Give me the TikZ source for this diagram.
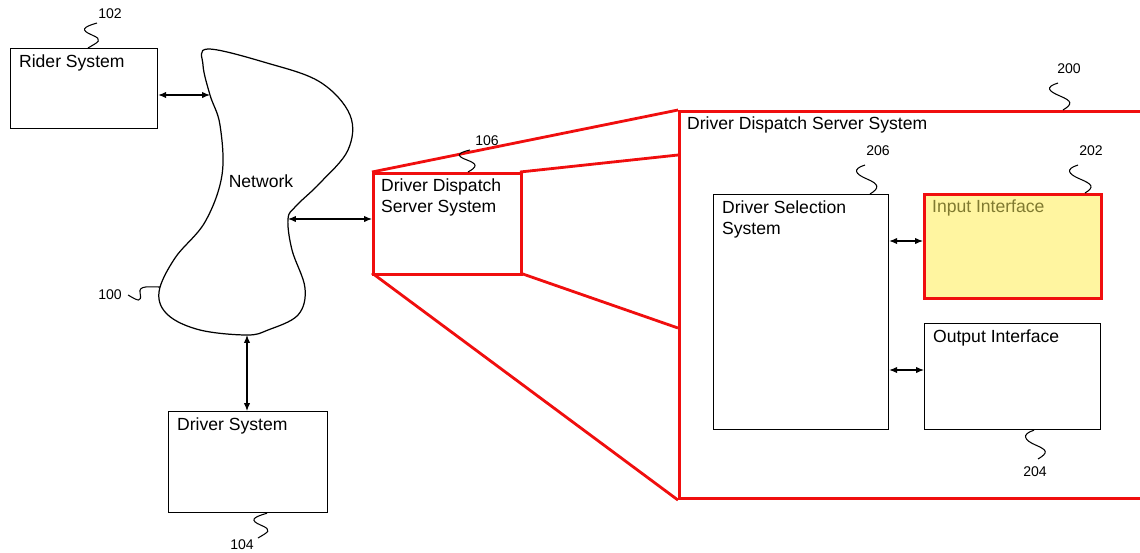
\documentclass[tikz,border=0pt]{standalone}
\usepackage{fontspec}
\setmainfont{Liberation Sans}
\usetikzlibrary{arrows.meta, positioning}

\definecolor{zoomred}{RGB}{240,14,14}
\definecolor{inputfill}{RGB}{255,245,160}
\definecolor{inputtext}{RGB}{128,122,48}

\tikzset{
  sysbox/.style={draw, line width=0.7pt, fill=white, inner sep=0pt, anchor=north west},
  redbox/.style={sysbox, draw=zoomred, line width=1.8pt},
  boxtext/.style={anchor=north west, inner sep=0pt, xshift=5pt, yshift=-3.5pt,
                  align=left, font=\fontsize{10}{12}\selectfont},
  refnum/.style={inner sep=0pt, font=\fontsize{8}{9.6}\selectfont},
  lead/.style={line width=0.6pt},
  zoomline/.style={zoomred, line width=1.6pt},
  link/.style={<->, line width=0.6pt}
}

\begin{document}
\begin{tikzpicture}[x=0.02cm, y=-0.02cm, >={Latex[length=4.5pt,width=3.6pt]}]
  % page frame, in pixels of the original sheet
  \clip (0,0) rectangle (1140,552);
  \useasboundingbox (0,0) rectangle (1140,552);

  % --- network cloud ---
  \draw[line width=0.7pt] plot[smooth cycle, tension=0.6] coordinates {
    (208,49) (267,63) (320,82) (350,115) (348,150) (320,183) (296,206)
    (288,219) (292,250) (305,288) (298,315) (268,330) (247,335) (200,330)
    (168,315) (159,292) (175,258) (205,222) (222,175) (220,125) (210,95)
    (203,65)};
  \coordinate (netw) at (210,95);
  \coordinate (nete) at (288,219);
  \coordinate (nets) at (247,335);
  \coordinate (netl) at (160,287);
  \node[font=\fontsize{10}{12}\selectfont] (nettxt) at (261,181) {Network};

  % --- zoom lines towards the detailed view ---
  \coordinate (zt) at (678,155);
  \coordinate (zb) at (678,328);

  % --- left side systems ---
  \node[sysbox, minimum width=2.94cm, minimum height=1.6cm,
        label={[boxtext]north west:Rider System}] (rider) at (10,48) {};
  \node[sysbox, minimum width=3.18cm, minimum height=2.02cm,
        label={[boxtext]north west:Driver System}] (driver) at (168,411) {};

  % --- detailed view 200 ---
  \node[redbox, minimum width=9.6cm, minimum height=7.74cm,
        label={[boxtext]north west:Driver Dispatch Server System}] (big) at (678,110) {};
  \node[sysbox, minimum width=3.5cm, minimum height=4.7cm,
        label={[boxtext]north west:{Driver Selection\\System}}] (dss) at (713,194) {};
  \node[redbox, fill=inputfill, minimum width=3.54cm, minimum height=2.08cm,
        label={[boxtext, text=inputtext]north west:Input Interface}] (inp) at (923,193) {};
  \node[sysbox, minimum width=3.52cm, minimum height=2.12cm,
        label={[boxtext]north west:Output Interface}] (out) at (924,323) {};

  \draw[zoomline] (372,172) -- (big.north west);
  \draw[zoomline] (520,172) -- (zt);
  \draw[zoomline] (520,273) -- (zb);
  \draw[zoomline] (372,273) -- (big.south west);

  \node[redbox, minimum width=2.96cm, minimum height=2.02cm,
        label={[boxtext]north west:{Driver Dispatch\\Server System}}] (dds) at (372,172) {};

  % --- connectors ---
  \draw[link] (rider.east |- netw) -- (netw);
  \draw[link] (nete) -- (dds.west |- nete);
  \draw[link] (nets) -- (driver.north -| nets);
  \draw[link] (dss.east |- 0,241) -- (inp.west |- 0,241);
  \draw[link] (dss.east |- 0,370) -- (out.west |- 0,370);

  % --- reference numerals ---
  \node[refnum] (n102) at (110,14) {102};
  \node[refnum] (n100) at (110,295) {100};
  \node[refnum] (n104) at (242,545) {104};
  \node[refnum] (n106) at (487,141) {106};
  \node[refnum] (n200) at (1069,69) {200};
  \node[refnum] (n206) at (878,151) {206};
  \node[refnum] (n202) at (1091,151) {202};
  \node[refnum] (n204) at (1035,472) {204};

  % squiggly leaders
  \draw[lead] (97,23) .. controls +(-14,4) and +(-12,-5) .. ++(-5,12)
              .. controls +(12,5) and +(10,-6) .. (rider.north -| 88,0);
  \draw[lead] (n100.east) ++(6,0) .. controls +(10,6) and +(2,10) .. ++(12,-2)
              .. controls +(-2,-8) and +(-10,0) .. (netl);
  \draw[lead] (driver.south -| 267,0) .. controls +(-14,4) and +(-12,-5) .. ++(-6,12)
              .. controls +(12,5) and +(10,-6) .. (258,538);
  \draw[lead] (470,150) .. controls +(-13,3) and +(-11,-4) .. ++(-3,10)
              .. controls +(11,4) and +(9,-5) .. (dds.north -| 468,0);
  \draw[lead] (1058,83) .. controls +(-13,4) and +(-12,-5) .. ++(2,13)
              .. controls +(12,5) and +(10,-6) .. (big.north -| 1063,0);
  \draw[lead] (865,165) .. controls +(-13,4) and +(-12,-5) .. ++(2,14)
              .. controls +(12,5) and +(10,-6) .. (dss.north -| 870,0);
  \draw[lead] (1078,165) .. controls +(-13,4) and +(-12,-5) .. ++(2,14)
              .. controls +(12,5) and +(10,-6) .. (inp.north -| 1085,0);
  \draw[lead] (out.south -| 1034,0) .. controls +(-13,4) and +(-12,-5) .. ++(2,15)
              .. controls +(12,5) and +(10,-6) .. (1038,459);
\end{tikzpicture}
\end{document}
